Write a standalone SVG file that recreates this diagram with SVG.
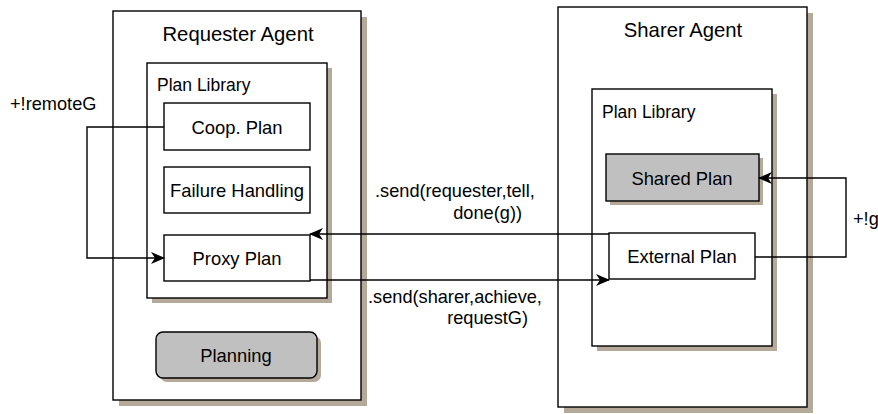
<svg xmlns="http://www.w3.org/2000/svg" width="878" height="414" viewBox="0 0 878 414">
<defs>
<style>
.box{fill:#ffffff;stroke:#000000;stroke-width:1.4}
.gray{fill:#c0c0c0;stroke:#000000;stroke-width:1.4}
.sh{fill:#b5aa99;stroke:none}
.title{font-family:"Liberation Sans",Arial,sans-serif;font-size:20.3px;fill:#000000}
.lib{font-family:"Liberation Sans",Arial,sans-serif;font-size:17.5px;fill:#000000}
.lbl{font-family:"Liberation Sans",Arial,sans-serif;font-size:18.4px;fill:#000000}
.ctr{text-anchor:middle}
.edge{fill:none;stroke:#000000;stroke-width:1.4}
.elbl{font-family:"Liberation Sans",Arial,sans-serif;font-size:18.2px;fill:#000000}
</style>
<marker id="arr" viewBox="0 0 14 12" refX="13" refY="6" markerWidth="14" markerHeight="12" markerUnits="userSpaceOnUse" orient="auto">
<path d="M0,0 L14,6 L0,12 L4,6 Z" fill="#000000"/>
</marker>
</defs>
<rect x="0" y="0" width="878" height="414" fill="#ffffff"/>

<g id="requester-agent">
<rect class="sh" x="119" y="17" width="248" height="389"/>
<rect class="box" x="113" y="11" width="248" height="389"/>
<text class="title ctr" x="238" y="41">Requester Agent</text>
</g>
<g id="requester-plan-library">
<rect class="sh" x="152" y="68" width="180" height="235"/>
<rect class="box" x="147" y="63" width="180" height="235"/>
<text class="lib" x="157" y="91">Plan Library</text>
</g>
<g id="coop-plan">
<rect class="box" x="164" y="103" width="146" height="47"/>
<text class="lbl ctr" x="237" y="133.5">Coop. Plan</text>
</g>
<g id="failure-handling">
<rect class="box" x="164" y="167" width="146" height="46"/>
<text class="lbl ctr" x="237" y="196.5">Failure Handling</text>
</g>
<g id="proxy-plan">
<rect class="box" x="164" y="235" width="146" height="46"/>
<text class="lbl ctr" x="237" y="264.5">Proxy Plan</text>
</g>
<g id="planning">
<rect class="sh" x="160" y="336" width="161" height="46" rx="7"/>
<rect class="gray" x="156" y="332" width="161" height="46" rx="7"/>
<text class="lbl ctr" x="236" y="361.5">Planning</text>
</g>

<g id="sharer-agent">
<rect class="sh" x="564" y="13" width="249" height="400"/>
<rect class="box" x="558" y="7" width="249" height="400"/>
<text class="title ctr" x="683" y="37">Sharer Agent</text>
</g>
<g id="sharer-plan-library">
<rect class="sh" x="597" y="94" width="180" height="257"/>
<rect class="box" x="592" y="89" width="180" height="257"/>
<text class="lib" x="602" y="118">Plan Library</text>
</g>
<g id="shared-plan">
<rect class="sh" x="610" y="158" width="153" height="47"/>
<rect class="gray" x="606" y="154" width="153" height="47"/>
<text class="lbl ctr" x="682" y="184.5">Shared Plan</text>
</g>
<g id="external-plan">
<rect class="box" x="609" y="233" width="146" height="46"/>
<text class="lbl ctr" x="682" y="262.5">External Plan</text>
</g>

<g id="connectors">
<path class="edge" d="M164,127 H87 V258 H164" marker-end="url(#arr)"/>
<path class="edge" d="M609,234 H310" marker-end="url(#arr)"/>
<path class="edge" d="M310,280 H609" marker-end="url(#arr)"/>
<path class="edge" d="M755,257 H846 V178 H759" marker-end="url(#arr)"/>
<text class="elbl" x="10" y="110">+!remoteG</text>
<text class="elbl" x="375" y="197">.send(requester,tell,</text>
<text class="elbl" x="522" y="219" text-anchor="end">done(g))</text>
<text class="elbl" x="368" y="303">.send(sharer,achieve,</text>
<text class="elbl" x="528" y="324" text-anchor="end">requestG)</text>
<text class="elbl" x="853" y="225">+!g</text>
</g>
</svg>
